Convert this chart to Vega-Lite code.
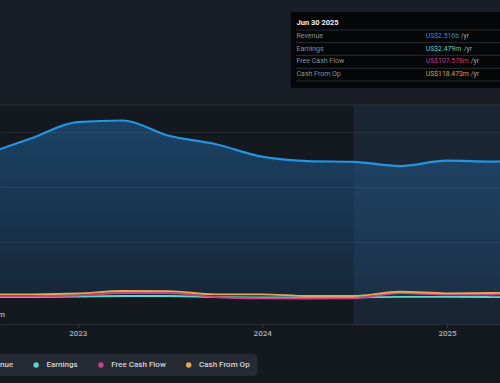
{
  "$schema": "https://vega.github.io/schema/vega-lite/v6.json",
  "width": 500,
  "height": 383,
  "autosize": {"type": "none"},
  "padding": 0,
  "background": "#141920",
  "config": {"view": {"stroke": null}, "font": "Roboto"},
  "datasets": {
    "fin": [
      {"date": "2022-06-30", "series": "Revenue", "value": 2.60},
      {"date": "2022-09-30", "series": "Revenue", "value": 2.89},
      {"date": "2022-12-31", "series": "Revenue", "value": 3.19},
      {"date": "2023-03-31", "series": "Revenue", "value": 3.218},
      {"date": "2023-06-30", "series": "Revenue", "value": 2.94},
      {"date": "2023-09-30", "series": "Revenue", "value": 2.79},
      {"date": "2023-12-31", "series": "Revenue", "value": 2.56},
      {"date": "2024-03-31", "series": "Revenue", "value": 2.48},
      {"date": "2024-06-30", "series": "Revenue", "value": 2.465},
      {"date": "2024-09-30", "series": "Revenue", "value": 2.39},
      {"date": "2024-12-31", "series": "Revenue", "value": 2.487},
      {"date": "2025-03-31", "series": "Revenue", "value": 2.47},
      {"date": "2025-06-30", "series": "Revenue", "value": 2.516},
      {"date": "2022-06-30", "series": "Earnings", "value": 0.004},
      {"date": "2022-09-30", "series": "Earnings", "value": 0.009},
      {"date": "2022-12-31", "series": "Earnings", "value": 0.018},
      {"date": "2023-03-31", "series": "Earnings", "value": 0.027},
      {"date": "2023-06-30", "series": "Earnings", "value": 0.027},
      {"date": "2023-09-30", "series": "Earnings", "value": 0.009},
      {"date": "2023-12-31", "series": "Earnings", "value": 0.0},
      {"date": "2024-03-31", "series": "Earnings", "value": 0.0},
      {"date": "2024-06-30", "series": "Earnings", "value": 0.001},
      {"date": "2024-09-30", "series": "Earnings", "value": 0.012},
      {"date": "2024-12-31", "series": "Earnings", "value": 0.012},
      {"date": "2025-03-31", "series": "Earnings", "value": 0.008},
      {"date": "2025-06-30", "series": "Earnings", "value": 0.00248},
      {"date": "2022-06-30", "series": "Free Cash Flow", "value": 0.022},
      {"date": "2022-09-30", "series": "Free Cash Flow", "value": 0.022},
      {"date": "2022-12-31", "series": "Free Cash Flow", "value": 0.036},
      {"date": "2023-03-31", "series": "Free Cash Flow", "value": 0.082},
      {"date": "2023-06-30", "series": "Free Cash Flow", "value": 0.082},
      {"date": "2023-09-30", "series": "Free Cash Flow", "value": 0.009},
      {"date": "2023-12-31", "series": "Free Cash Flow", "value": -0.015},
      {"date": "2024-03-31", "series": "Free Cash Flow", "value": -0.018},
      {"date": "2024-06-30", "series": "Free Cash Flow", "value": -0.015},
      {"date": "2024-09-30", "series": "Free Cash Flow", "value": 0.082},
      {"date": "2024-12-31", "series": "Free Cash Flow", "value": 0.055},
      {"date": "2025-03-31", "series": "Free Cash Flow", "value": 0.055},
      {"date": "2025-06-30", "series": "Free Cash Flow", "value": 0.1076},
      {"date": "2022-06-30", "series": "Cash From Op", "value": 0.055},
      {"date": "2022-09-30", "series": "Cash From Op", "value": 0.058},
      {"date": "2022-12-31", "series": "Cash From Op", "value": 0.073},
      {"date": "2023-03-31", "series": "Cash From Op", "value": 0.118},
      {"date": "2023-06-30", "series": "Cash From Op", "value": 0.115},
      {"date": "2023-09-30", "series": "Cash From Op", "value": 0.058},
      {"date": "2023-12-31", "series": "Cash From Op", "value": 0.058},
      {"date": "2024-03-31", "series": "Cash From Op", "value": 0.027},
      {"date": "2024-06-30", "series": "Cash From Op", "value": 0.027},
      {"date": "2024-09-30", "series": "Cash From Op", "value": 0.105},
      {"date": "2024-12-31", "series": "Cash From Op", "value": 0.076},
      {"date": "2025-03-31", "series": "Cash From Op", "value": 0.082},
      {"date": "2025-06-30", "series": "Cash From Op", "value": 0.1185}
    ]
  },
  "layer": [
    {
      "data": {"values": [{}]},
      "mark": {"type": "rect", "fill": "#181d26", "clip": true},
      "encoding": {
        "x": {"datum": {"year": 2022, "month": 7, "date": 1, "utc": true}, "type": "temporal"},
        "x2": {"datum": {"year": 2025, "month": 12, "date": 31, "utc": true}},
        "y": {"datum": 3.5, "type": "quantitative"},
        "y2": {"datum": 6}
      }
    },
    {
      "data": {"name": "fin"},
      "transform": [{"filter": "datum.series === 'Revenue'"}],
      "mark": {
        "type": "area",
        "interpolate": "monotone",
        "clip": true,
        "color": {
          "x1": 0, "y1": 0, "x2": 0, "y2": 1,
          "gradient": "linear",
          "stops": [
            {"offset": 0, "color": "#1b4265"},
            {"offset": 1, "color": "#162739"}
          ]
        }
      },
      "encoding": {
        "x": {
          "field": "date",
          "type": "temporal",
          "title": null,
          "scale": {
            "type": "utc",
            "domain": [
              {"year": 2022, "month": 7, "date": 31, "utc": true},
              {"year": 2025, "month": 4, "date": 15, "hours": 19, "utc": true}
            ]
          },
          "axis": {
            "offset": -59,
            "values": [
              {"year": 2023, "month": 1, "date": 1, "utc": true},
              {"year": 2024, "month": 1, "date": 1, "utc": true},
              {"year": 2025, "month": 1, "date": 1, "utc": true}
            ],
            "format": "%Y",
            "formatType": "utc",
            "grid": false,
            "domainColor": "#2b3039",
            "tickColor": "#3a3f48",
            "tickSize": 3,
            "labelFontSize": 8,
            "labelFontWeight": 500,
            "labelColor": "#a9adb3",
            "labelPadding": 2
          }
        },
        "y": {
          "field": "value",
          "type": "quantitative",
          "stack": null,
          "title": null,
          "scale": {"domain": [-1.55455, 5.40909], "nice": false, "zero": false},
          "axis": {
            "values": [1, 2, 3],
            "grid": true,
            "gridColor": "#ffffff",
            "gridOpacity": 0.06,
            "labels": false,
            "ticks": false,
            "domain": false,
            "zindex": 1
          }
        },
        "y2": {"datum": 0}
      }
    },
    {
      "data": {"values": [{}]},
      "mark": {"type": "rect", "fill": "#325a84", "opacity": 0.2, "clip": true},
      "encoding": {
        "x": {"datum": {"year": 2024, "month": 6, "date": 30, "utc": true}, "type": "temporal"},
        "x2": {"datum": {"year": 2025, "month": 12, "date": 31, "utc": true}},
        "y": {"datum": -0.4818, "type": "quantitative"},
        "y2": {"datum": 3.5}
      }
    },
    {
      "data": {"values": [{}]},
      "mark": {"type": "rule", "color": "#2d333c", "strokeWidth": 1},
      "encoding": {"y": {"datum": 3.5, "type": "quantitative"}}
    },
    {
      "data": {"name": "fin"},
      "transform": [{"filter": "datum.series !== 'Revenue'"}],
      "mark": {"type": "line", "interpolate": "monotone", "strokeWidth": 1.8, "clip": true},
      "encoding": {
        "x": {"field": "date", "type": "temporal", "title": null},
        "y": {"field": "value", "type": "quantitative", "title": null},
        "color": {
          "field": "series",
          "type": "nominal",
          "scale": {
            "domain": ["Revenue", "Earnings", "Free Cash Flow", "Cash From Op"],
            "range": ["#2394df", "#5cd6c9", "#c8418a", "#e6a84e"]
          },
          "legend": {
            "orient": "none",
            "legendX": -38.7,
            "legendY": 354,
            "direction": "horizontal",
            "title": null,
            "fillColor": "#252a33",
            "cornerRadius": 4,
            "padding": 7,
            "columnPadding": 18.8,
            "labelOffset": 6.3,
            "symbolType": "circle",
            "symbolSize": 30,
            "labelFontSize": 8,
            "labelFontWeight": 500,
            "labelColor": "#d3d6db",
            "encode": {
              "symbols": {
                "update": {
                  "fill": {"scale": "color", "field": "value"},
                  "strokeWidth": {"value": 0}
                }
              }
            }
          }
        }
      }
    },
    {
      "data": {"name": "fin"},
      "transform": [{"filter": "datum.series === 'Revenue'"}],
      "mark": {"type": "line", "interpolate": "monotone", "strokeWidth": 2.2, "color": "#2394df", "clip": true},
      "encoding": {
        "x": {"field": "date", "type": "temporal", "title": null},
        "y": {"field": "value", "type": "quantitative", "title": null}
      }
    },
    {
      "data": {"values": [{}]},
      "mark": {"type": "text", "text": "US$0m", "align": "right", "baseline": "middle", "dx": 5, "fontSize": 8, "fontWeight": 500, "color": "#a9adb3"},
      "encoding": {
        "x": {"datum": {"year": 2022, "month": 7, "date": 31, "utc": true}, "type": "temporal"},
        "y": {"datum": -0.318, "type": "quantitative"}
      }
    },
    {
      "data": {"values": [{}]},
      "mark": {"type": "rect", "fill": "#050608", "clip": true},
      "encoding": {
        "x": {"datum": {"year": 2024, "month": 2, "date": 27, "utc": true}, "type": "temporal"},
        "x2": {"datum": {"year": 2025, "month": 12, "date": 31, "utc": true}},
        "y": {"datum": 5.1909, "type": "quantitative"},
        "y2": {"datum": 3.815}
      }
    },
    {
      "data": {"values": [{}]},
      "mark": {"type": "rule", "color": "#2a2d33", "clip": true},
      "encoding": {
        "x": {"datum": {"year": 2024, "month": 3, "date": 8, "utc": true}, "type": "temporal"},
        "x2": {"datum": {"year": 2025, "month": 12, "date": 31, "utc": true}},
        "y": {"datum": 4.8636, "type": "quantitative"}
      }
    },
    {
      "data": {"values": [{}]},
      "mark": {"type": "rule", "color": "#2a2d33", "clip": true},
      "encoding": {
        "x": {"datum": {"year": 2024, "month": 3, "date": 8, "utc": true}, "type": "temporal"},
        "x2": {"datum": {"year": 2025, "month": 12, "date": 31, "utc": true}},
        "y": {"datum": 4.6327, "type": "quantitative"}
      }
    },
    {
      "data": {"values": [{}]},
      "mark": {"type": "rule", "color": "#2a2d33", "clip": true},
      "encoding": {
        "x": {"datum": {"year": 2024, "month": 3, "date": 8, "utc": true}, "type": "temporal"},
        "x2": {"datum": {"year": 2025, "month": 12, "date": 31, "utc": true}},
        "y": {"datum": 4.4036, "type": "quantitative"}
      }
    },
    {
      "data": {"values": [{}]},
      "mark": {"type": "rule", "color": "#2a2d33", "clip": true},
      "encoding": {
        "x": {"datum": {"year": 2024, "month": 3, "date": 8, "utc": true}, "type": "temporal"},
        "x2": {"datum": {"year": 2025, "month": 12, "date": 31, "utc": true}},
        "y": {"datum": 4.1673, "type": "quantitative"}
      }
    },
    {
      "data": {"values": [{}]},
      "mark": {"type": "rule", "color": "#2a2d33", "clip": true},
      "encoding": {
        "x": {"datum": {"year": 2024, "month": 3, "date": 8, "utc": true}, "type": "temporal"},
        "x2": {"datum": {"year": 2025, "month": 12, "date": 31, "utc": true}},
        "y": {"datum": 3.9364, "type": "quantitative"}
      }
    },
    {
      "data": {"values": [{}]},
      "mark": {"type": "text", "text": "Jun 30 2025", "align": "left", "baseline": "middle", "fontSize": 7.5, "fontWeight": "bold", "color": "#f2f2f2"},
      "encoding": {
        "x": {"datum": {"year": 2024, "month": 3, "date": 9, "utc": true}, "type": "temporal"},
        "y": {"datum": 4.991, "type": "quantitative"}
      }
    },
    {
      "data": {"values": [{}]},
      "mark": {"type": "text", "text": "Revenue", "align": "left", "baseline": "middle", "fontSize": 7, "color": "#8b9098"},
      "encoding": {
        "x": {"datum": {"year": 2024, "month": 3, "date": 9, "utc": true}, "type": "temporal"},
        "y": {"datum": 4.7545, "type": "quantitative"}
      }
    },
    {
      "data": {"values": [{}]},
      "mark": {"type": "text", "text": "Earnings", "align": "left", "baseline": "middle", "fontSize": 7, "color": "#8b9098"},
      "encoding": {
        "x": {"datum": {"year": 2024, "month": 3, "date": 9, "utc": true}, "type": "temporal"},
        "y": {"datum": 4.527, "type": "quantitative"}
      }
    },
    {
      "data": {"values": [{}]},
      "mark": {"type": "text", "text": "Free Cash Flow", "align": "left", "baseline": "middle", "fontSize": 7, "color": "#8b9098"},
      "encoding": {
        "x": {"datum": {"year": 2024, "month": 3, "date": 9, "utc": true}, "type": "temporal"},
        "y": {"datum": 4.2945, "type": "quantitative"}
      }
    },
    {
      "data": {"values": [{}]},
      "mark": {"type": "text", "text": "Cash From Op", "align": "left", "baseline": "middle", "fontSize": 7, "color": "#8b9098"},
      "encoding": {
        "x": {"datum": {"year": 2024, "month": 3, "date": 9, "utc": true}, "type": "temporal"},
        "y": {"datum": 4.0636, "type": "quantitative"}
      }
    },
    {
      "data": {"values": [{}]},
      "mark": {"type": "text", "text": "US$2.516b", "align": "left", "baseline": "middle", "fontSize": 6.8, "color": "#2e8fdb"},
      "encoding": {
        "x": {"datum": {"year": 2024, "month": 11, "date": 20, "utc": true}, "type": "temporal"},
        "y": {"datum": 4.7545, "type": "quantitative"}
      }
    },
    {
      "data": {"values": [{}]},
      "mark": {"type": "text", "text": "US$2.479m", "align": "left", "baseline": "middle", "fontSize": 6.8, "color": "#5ccfc3"},
      "encoding": {
        "x": {"datum": {"year": 2024, "month": 11, "date": 20, "utc": true}, "type": "temporal"},
        "y": {"datum": 4.527, "type": "quantitative"}
      }
    },
    {
      "data": {"values": [{}]},
      "mark": {"type": "text", "text": "US$107.578m", "align": "left", "baseline": "middle", "fontSize": 6.8, "color": "#c23d84"},
      "encoding": {
        "x": {"datum": {"year": 2024, "month": 11, "date": 20, "utc": true}, "type": "temporal"},
        "y": {"datum": 4.2945, "type": "quantitative"}
      }
    },
    {
      "data": {"values": [{}]},
      "mark": {"type": "text", "text": "US$118.473m", "align": "left", "baseline": "middle", "fontSize": 6.8, "color": "#dca24b"},
      "encoding": {
        "x": {"datum": {"year": 2024, "month": 11, "date": 20, "utc": true}, "type": "temporal"},
        "y": {"datum": 4.0636, "type": "quantitative"}
      }
    },
    {
      "data": {"values": [{}]},
      "mark": {"type": "text", "text": "/yr", "align": "left", "baseline": "middle", "fontSize": 6.8, "color": "#a0a4aa"},
      "encoding": {
        "x": {"datum": {"year": 2025, "month": 1, "date": 28, "utc": true}, "type": "temporal"},
        "y": {"datum": 4.7545, "type": "quantitative"}
      }
    },
    {
      "data": {"values": [{}]},
      "mark": {"type": "text", "text": "/yr", "align": "left", "baseline": "middle", "fontSize": 6.8, "color": "#a0a4aa"},
      "encoding": {
        "x": {"datum": {"year": 2025, "month": 2, "date": 3, "utc": true}, "type": "temporal"},
        "y": {"datum": 4.527, "type": "quantitative"}
      }
    },
    {
      "data": {"values": [{}]},
      "mark": {"type": "text", "text": "/yr", "align": "left", "baseline": "middle", "fontSize": 6.8, "color": "#a0a4aa"},
      "encoding": {
        "x": {"datum": {"year": 2025, "month": 2, "date": 17, "utc": true}, "type": "temporal"},
        "y": {"datum": 4.2945, "type": "quantitative"}
      }
    },
    {
      "data": {"values": [{}]},
      "mark": {"type": "text", "text": "/yr", "align": "left", "baseline": "middle", "fontSize": 6.8, "color": "#a0a4aa"},
      "encoding": {
        "x": {"datum": {"year": 2025, "month": 2, "date": 17, "utc": true}, "type": "temporal"},
        "y": {"datum": 4.0636, "type": "quantitative"}
      }
    }
  ]
}
